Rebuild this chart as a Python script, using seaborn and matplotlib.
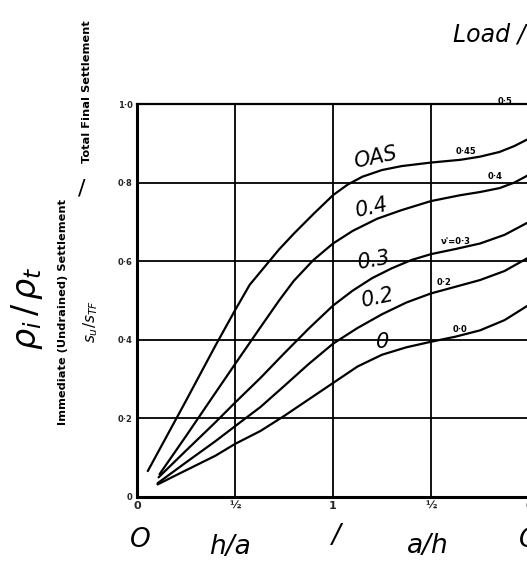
import matplotlib
matplotlib.use("Agg")
import matplotlib.pyplot as plt
import seaborn as sns
import pandas as pd

# x position scale: 0 -> h/a=0, 1 -> h/a=1/2, 2 -> 1, 3 -> a/h=1/2, 4 -> a/h=0
x_ticks = [0, 1, 2, 3, 4]
x_tick_labels = ["0", "½", "1", "½", "0"]
y_ticks = [0, 0.2, 0.4, 0.6, 0.8, 1.0]
y_tick_labels = ["0", "0·2", "0·4", "0·6", "0·8", "1·0"]

pos_045 = [0.11, 0.5, 0.8, 1.0, 1.15, 1.3, 1.45, 1.6, 1.8, 2.0, 2.15, 2.3, 2.5, 2.7, 3.0, 3.3, 3.5, 3.7, 3.85, 4.0]
val_045 = [0.066, 0.245, 0.385, 0.475, 0.54, 0.585, 0.63, 0.67, 0.72, 0.768, 0.795, 0.815, 0.832, 0.842, 0.851, 0.858, 0.866, 0.878, 0.893, 0.912]
pos_04 = [0.23, 0.5, 0.8, 1.0, 1.26, 1.45, 1.6, 1.8, 2.0, 2.2, 2.45, 2.7, 3.0, 3.3, 3.5, 3.7, 3.85, 4.0]
val_04 = [0.058, 0.155, 0.265, 0.338, 0.432, 0.50, 0.550, 0.603, 0.645, 0.677, 0.708, 0.730, 0.753, 0.768, 0.776, 0.786, 0.800, 0.820]
pos_03 = [0.22, 0.5, 0.8, 1.0, 1.26, 1.5, 1.75, 2.0, 2.2, 2.4, 2.6, 2.8, 3.0, 3.25, 3.5, 3.75, 4.0]
val_03 = [0.050, 0.118, 0.190, 0.240, 0.303, 0.365, 0.428, 0.487, 0.525, 0.557, 0.582, 0.603, 0.618, 0.631, 0.645, 0.667, 0.700]
pos_02 = [0.21, 0.5, 0.8, 1.0, 1.26, 1.5, 1.75, 2.0, 2.25, 2.5, 2.75, 3.0, 3.25, 3.5, 3.75, 4.0]
val_02 = [0.035, 0.088, 0.142, 0.180, 0.229, 0.282, 0.338, 0.390, 0.430, 0.465, 0.495, 0.518, 0.535, 0.552, 0.575, 0.610]
pos_00 = [0.21, 0.5, 0.8, 1.0, 1.26, 1.5, 1.75, 2.0, 2.25, 2.5, 2.75, 3.0, 3.25, 3.5, 3.75, 4.0]
val_00 = [0.032, 0.068, 0.105, 0.135, 0.168, 0.206, 0.248, 0.290, 0.332, 0.362, 0.381, 0.395, 0.408, 0.424, 0.450, 0.489]

series = [("0.45", pos_045, val_045), ("0.4", pos_04, val_04), ("0.3", pos_03, val_03),
          ("0.2", pos_02, val_02), ("0", pos_00, val_00)]
frames = [pd.DataFrame({"pos": p, "val": v, "nu": n}) for n, p, v in series]
df = pd.concat(frames, ignore_index=True)

sns.set_style("white")
fig = plt.figure(figsize=(5.27, 5.63), dpi=100)
W, H = 527, 563
ax = fig.add_axes([137 / W, (H - 497) / H, (529 - 137) / W, (497 - 104) / H])

sns.lineplot(data=df, x="pos", y="val", units="nu", estimator=None, sort=False,
             color="black", linewidth=1.6, ax=ax, legend=False)
for ln in ax.get_lines():
    ln.set_solid_joinstyle("round")
    ln.set_solid_capstyle("round")

ax.set_xlim(0, 4.0)
ax.set_ylim(0, 1.0)
for xv in x_ticks[1:]:
    ax.axvline(xv, color="black", linewidth=1.3, zorder=0)
for yv in y_ticks[1:-1]:
    ax.axhline(yv, color="black", linewidth=1.3, zorder=0)
for s in ["left", "bottom"]:
    ax.spines[s].set_linewidth(2.2)
    ax.spines[s].set_color("black")
ax.spines["top"].set_linewidth(1.6)
ax.spines["top"].set_color("black")
ax.spines["right"].set_visible(False)

ax.set_xticks(x_ticks)
ax.set_xticklabels(x_tick_labels, fontsize=8, fontweight="bold")
ax.set_yticks(y_ticks)
ax.set_yticklabels(y_tick_labels, fontsize=6, fontweight="bold")
ax.tick_params(length=0, pad=3)
ax.set_xlabel("")
ax.set_ylabel("")

def fx(px):
    return px / W

def fy(py):
    return 1 - py / H

hand = dict(family="DejaVu Sans", style="italic", color="black")
# bottom axis handwritten labels
for px, py, txt in [(140, 540, "O"), (230, 547, "h/a"), (336, 536, "/"), (428, 546, "a/h"), (529, 540, "O")]:
    fig.text(fx(px), fy(py), txt, fontsize=19, ha="center", va="center", **hand)

# title fragment
fig.text(fx(489), fy(35), "Load /", fontsize=17, ha="center", va="center", **hand)

# y labels
fig.text(fx(27), fy(308), r"$\rho_i\,/\,\rho_t$", fontsize=24, rotation=90,
         ha="center", va="center", color="black")
fig.text(fx(63), fy(312), "Immediate (Undrained) Settlement", fontsize=8.2,
         fontweight="bold", rotation=90, ha="center", va="center", color="black")
fig.text(fx(82), fy(188), "/", fontsize=16, rotation=0, ha="center", va="center", color="black")
fig.text(fx(87), fy(92), "Total Final Settlement", fontsize=8.2,
         fontweight="bold", rotation=90, ha="center", va="center", color="black")
fig.text(fx(91), fy(322), r"$s_u/s_{TF}$", fontsize=11, rotation=90,
         ha="center", va="center", color="black")

# curve labels (large)
for px, py, txt, rot in [(375, 158, "OAS", 12), (372, 208, "0.4", 12), (374, 260, "0.3", 10),
                         (378, 298, "0.2", 12), (383, 342, "0", 0)]:
    fig.text(fx(px), fy(py), txt, fontsize=15, rotation=rot, ha="center", va="center", **hand)

# small labels
for px, py, txt in [(505, 102, "0·5"), (466, 152, "0·45"), (495, 177, "0·4"),
                    (456, 241, "ν'=0·3"), (444, 283, "0·2"), (460, 330, "0·0")]:
    fig.text(fx(px), fy(py), txt, fontsize=6, fontweight="bold", ha="center", va="center",
             color="black")

fig.savefig("out.png", dpi=100)
